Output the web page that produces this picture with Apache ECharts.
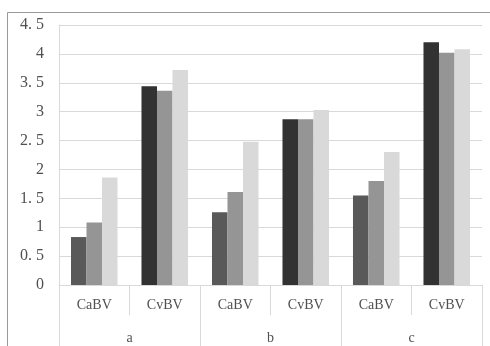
<!DOCTYPE html>
<html><head><meta charset="utf-8">
<script src="https://cdn.jsdelivr.net/npm/echarts@6/dist/echarts.min.js"></script>
<style>html,body{margin:0;padding:0;background:#fff}#c{width:490px;height:346px}</style>
</head><body><div id="c"></div>
<script>
var categories = ['CaBV','CvBV','CaBV','CvBV','CaBV','CvBV'];
var groups = ['a','b','c'];
var series1 = [0.83, 3.44, 1.26, 2.87, 1.55, 4.20];
var series2 = [1.08, 3.36, 1.61, 2.87, 1.80, 4.02];
var series3 = [1.86, 3.72, 2.48, 3.03, 2.30, 4.08];
var yTicks = [0, 0.5, 1, 1.5, 2, 2.5, 3, 3.5, 4, 4.5];

var darkColors = {CaBV: '#595959', CvBV: '#323232'};
var font = 'Liberation Serif';
var chart = echarts.init(document.getElementById('c'));
chart.setOption({
  animation: false,
  graphic: [{type:'rect', shape:{x:7.5,y:12.5,width:600,height:400}, style:{fill:'none', stroke:'#9a9a9a', lineWidth:1}, z:-1}],
  grid: {left:59, right:8, top:25, bottom:61},
  xAxis: [{
    type:'category', data:categories, position:'bottom',
    axisLine:{show:true, lineStyle:{color:'#d9d9d9'}},
    axisTick:{show:true, interval:0, length:30, lineStyle:{color:'#d9d9d9'}},
    axisLabel:{interval:0, margin:13, color:'#505050', fontFamily:font, fontSize:14}
  },{
    type:'category', data:groups, position:'bottom',
    axisLine:{show:false},
    axisTick:{show:true, interval:0, length:61, lineStyle:{color:'#d9d9d9'}},
    axisLabel:{interval:0, margin:46, color:'#505050', fontFamily:font, fontSize:14}
  }],
  yAxis: {
    type:'value', min:yTicks[0], max:yTicks[yTicks.length-1], interval:0.5,
    axisLine:{show:true, lineStyle:{color:'#d9d9d9'}},
    axisTick:{show:false},
    splitLine:{lineStyle:{color:'#d9d9d9'}},
    axisLabel:{margin:15, color:'#505050', fontFamily:font, fontSize:16,
      formatter:function(v){return String(v).replace('.', '. ');}}
  },
  series: [
    {type:'bar', xAxisIndex:0, barGap:'0%', barCategoryGap:'34%',
      data: series1.map(function(v,i){return {value:v, itemStyle:{color:darkColors[categories[i]]}};})},
    {type:'bar', xAxisIndex:0, data:series2, itemStyle:{color:'#959595'}},
    {type:'bar', xAxisIndex:0, data:series3, itemStyle:{color:'#d9d9d9'}}
  ]
});
</script></body></html>
